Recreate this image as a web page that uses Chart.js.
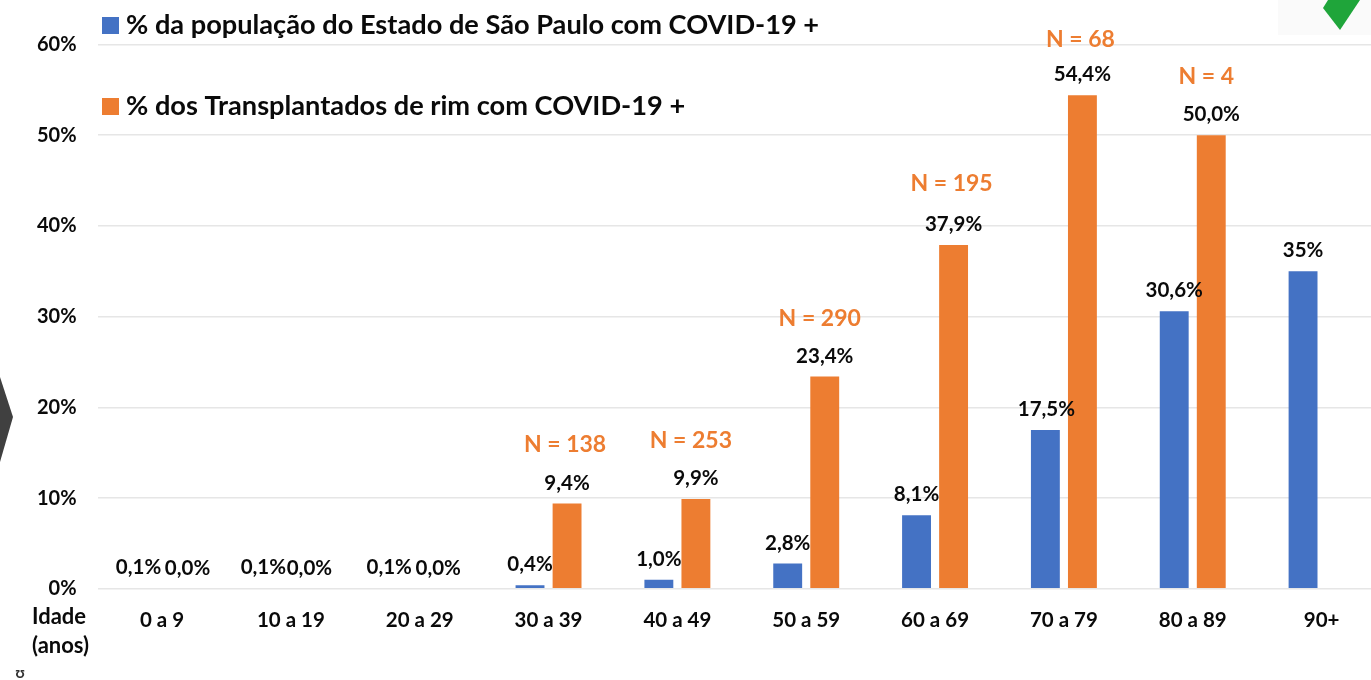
<!DOCTYPE html>
<html><head><meta charset="utf-8">
<style>html,body{margin:0;padding:0;background:#fff;overflow:hidden;width:1371px;height:680px}canvas{display:block}</style>
<script src="https://cdn.jsdelivr.net/npm/chart.js@4"></script>
</head><body><canvas id="c" width="1386" height="680"></canvas>
<script>
const categories = ['0 a 9','10 a 19','20 a 29','30 a 39','40 a 49','50 a 59','60 a 69','70 a 79','80 a 89','90+'];
const populacao = [0.1,0.1,0.1,0.4,1.0,2.8,8.1,17.5,30.6,35];
const transplantados = [0,0,0,9.4,9.9,23.4,37.9,54.4,50.0,null];
const populacaoLabels = ['0,1%','0,1%','0,1%','0,4%','1,0%','2,8%','8,1%','17,5%','30,6%','35%'];
const transplantadosLabels = ['0,0%','0,0%','0,0%','9,4%','9,9%','23,4%','37,9%','54,4%','50,0%',null];
const nLabels = [null,null,null,'N = 138','N = 253','N = 290','N = 195','N = 68','N = 4',null];
const seriesNames = ['% da população do Estado de São Paulo com COVID-19 +','% dos Transplantados de rim com COVID-19 +'];
const yTicks = [0,10,20,30,40,50,60];

const BLUE='#4472c4', ORANGE='#ed7d31', INK='#0a0a0a';
const FONT='Lato, Carlito, sans-serif';
// label nudges
const blueDx=[-5,-9,-12,0,0,0,0,1,0,0];
const orangeDx=[7,0,0,0,0,0,0,0,0,0];
const nDx=[0,0,0,-2,-5,-5,-2,-2,-5,0];
const nDy=[0,0,0,-59,-58,-58,-61,-56,-59,0];

const annotate={
  id:'annotate',
  afterDraw(chart){
    const g=chart.ctx;
    g.save();
    g.textAlign='center';g.textBaseline='middle';
    // value and N labels
    [[0,populacaoLabels,blueDx],[1,transplantadosLabels,orangeDx]].forEach(([d,labs,dx])=>{
      const meta=chart.getDatasetMeta(d);
      labs.forEach((t,i)=>{
        if(t==null)return;
        const b=meta.data[i];
        g.font='bold 20.5px '+FONT;g.fillStyle=INK;
        g.fillText(t,b.x+dx[i],b.y-20.5);
      });
    });
    const m1=chart.getDatasetMeta(1);
    nLabels.forEach((t,i)=>{
      if(t==null)return;
      const b=m1.data[i];
      g.font='bold 23px '+FONT;g.fillStyle=ORANGE;
      g.fillText(t,b.x+nDx[i],b.y+nDy[i]);
    });
    // legend
    g.textAlign='left';
    g.font='bold 27.2px '+FONT;
    [[BLUE,25],[ORANGE,106]].forEach(([c,y],i)=>{
      g.fillStyle=c;g.fillRect(102,y-8,17,17);
      g.fillStyle=INK;g.fillText(seriesNames[i],126,y);
    });
    // axis caption
    g.font='bold 22px '+FONT;g.fillStyle=INK;
    g.fillText('Idade',32,617);
    g.fillText('(anos)',32,646);
    g.restore();
  },
  beforeDraw(chart){
    const g=chart.ctx;
    g.save();
    // stray picture pieces in the screenshot
    g.fillStyle='#fafafa';g.fillRect(1278,0,93,35);
    g.fillStyle='#1fa53a';
    g.beginPath();g.moveTo(1328,0);g.lineTo(1323,8);g.lineTo(1340,30);g.lineTo(1360,0);g.closePath();g.fill();
    g.fillStyle='#404040';
    g.beginPath();g.moveTo(0,377);g.lineTo(13,417);g.lineTo(0,462);g.closePath();g.fill();
    g.font='bold 16px '+FONT;g.fillStyle='#333';g.textAlign='center';g.textBaseline='middle';
    g.fillText('ʊ',20,673);
    g.restore();
  }
};

new Chart(document.getElementById('c'),{
  type:'bar',
  data:{labels:categories,datasets:[
    {label:seriesNames[0],data:populacao,backgroundColor:BLUE},
    {label:seriesNames[1],data:transplantados,backgroundColor:ORANGE}
  ]},
  options:{
    responsive:false,animation:false,
    layout:{padding:{top:44.5,left:0,right:0,bottom:0}},
    categoryPercentage:.575,barPercentage:.78,
    plugins:{legend:{display:false},title:{display:false},tooltip:{enabled:false}},
    scales:{
      x:{
        grid:{display:false},border:{display:false},
        ticks:{color:INK,font:{family:FONT,size:20.5,weight:'bold'},padding:11,maxRotation:0,autoSkip:false},
        afterFit(s){s.height=91.2;}
      },
      y:{
        min:0,max:60,
        afterBuildTicks(s){s.ticks=yTicks.map(v=>({value:v}));},
        grid:{color:'#e6e6e6',lineWidth:1.5,drawTicks:false},border:{display:false},
        ticks:{color:INK,font:{family:FONT,size:20,weight:'bold'},padding:21,callback:v=>v+'%'},
        afterFit(s){s.width=97.6;}
      }
    }
  },
  plugins:[annotate]
});
</script></body></html>
